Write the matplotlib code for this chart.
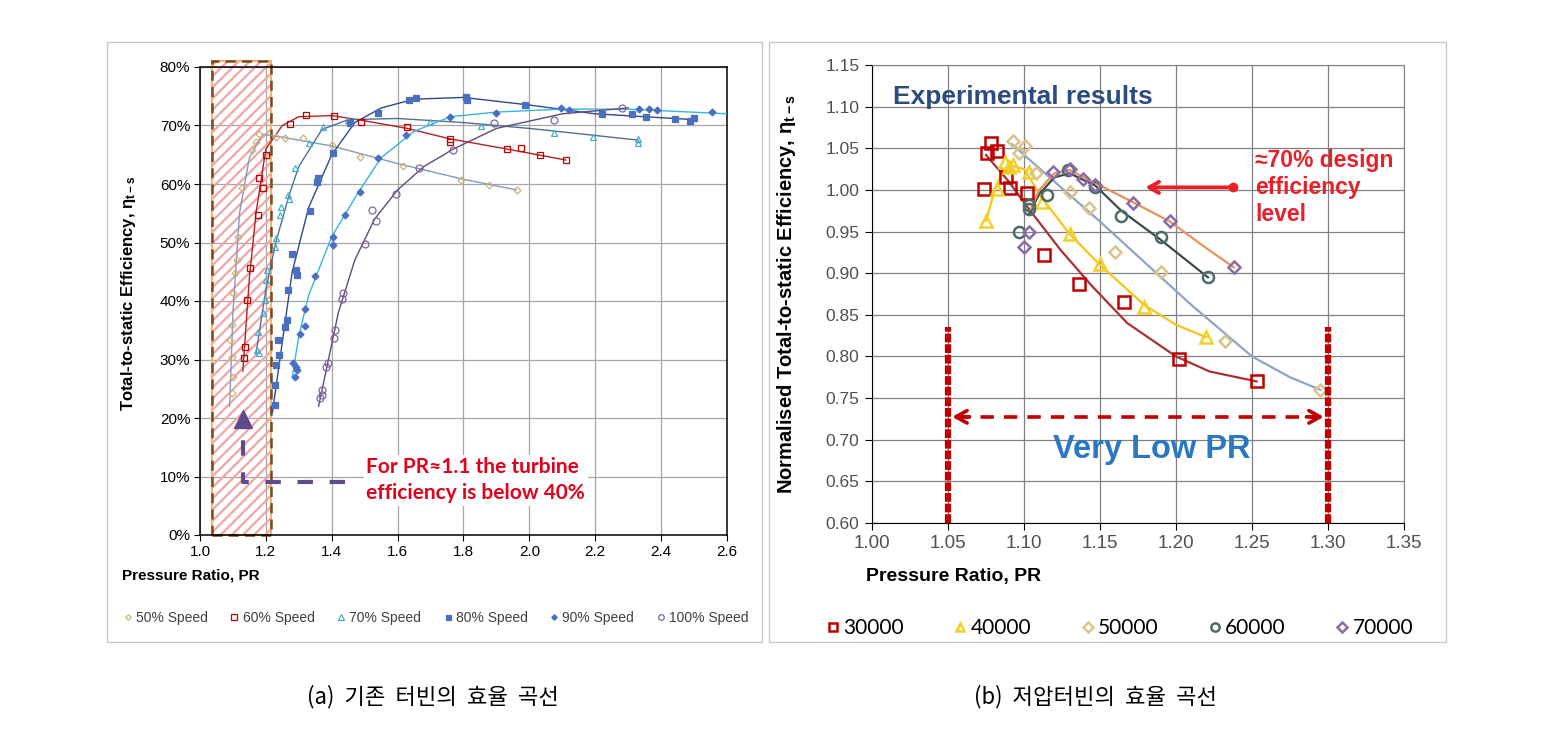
import matplotlib
matplotlib.use('Agg')
import matplotlib.pyplot as plt
import matplotlib.patches as mpatches
import numpy as np

plt.rcParams['font.family'] = ['Liberation Sans', 'DejaVu Sans']
plt.rcParams['hatch.linewidth'] = 1.6

# ---------------- (a) existing turbine: markers ----------------
speed_names = ['50% Speed', '60% Speed', '70% Speed', '80% Speed', '90% Speed', '100% Speed']

pr_50 = [1.096, 1.099, 1.096, 1.090, 1.096, 1.100, 1.106, 1.112, 1.115, 1.126, 1.157, 1.170, 1.180,
         1.230, 1.258, 1.313, 1.400, 1.485, 1.615, 1.793, 1.876, 1.962]
eff_50 = [24.3, 27.0, 30.5, 33.3, 35.9, 41.3, 44.8, 47.0, 51.0, 59.3, 65.8, 67.2, 68.5,
          68.0, 67.9, 67.8, 66.7, 64.7, 63.0, 60.7, 59.8, 59.0]
pr_60 = [1.134, 1.137, 1.142, 1.152, 1.176, 1.180, 1.190, 1.200, 1.273, 1.323, 1.406, 1.490,
         1.627, 1.758, 1.758, 1.933, 1.976, 2.033, 2.111]
eff_60 = [30.2, 32.2, 40.2, 45.6, 54.7, 61.0, 59.3, 65.0, 70.3, 71.8, 71.7, 70.6,
          69.7, 67.7, 67.2, 66.0, 66.2, 65.0, 64.1]
pr_70 = [1.172, 1.176, 1.180, 1.191, 1.197, 1.200, 1.202, 1.227, 1.232, 1.242, 1.247, 1.267,
         1.270, 1.288, 1.330, 1.373, 1.448, 1.697, 1.853, 2.076, 2.194, 2.330, 2.330]
eff_70 = [31.6, 34.7, 31.1, 37.9, 40.2, 43.6, 45.3, 49.3, 50.8, 54.7, 56.1, 58.1,
          57.5, 62.7, 67.0, 69.7, 70.9, 70.6, 69.9, 68.7, 68.0, 67.7, 67.0]
pr_80 = [1.227, 1.227, 1.232, 1.239, 1.236, 1.258, 1.263, 1.267, 1.278, 1.291, 1.293, 1.333,
         1.354, 1.358, 1.404, 1.455, 1.540, 1.636, 1.657, 1.808, 1.812, 1.988, 2.220, 2.311,
         2.354, 2.442, 2.487, 2.500]
eff_80 = [22.2, 25.6, 29.1, 30.8, 33.3, 35.6, 36.8, 41.8, 48.0, 45.3, 44.4, 55.4,
          60.4, 61.0, 65.3, 70.4, 72.1, 74.4, 74.7, 74.9, 74.4, 73.5, 72.0, 72.0,
          71.5, 71.1, 70.8, 71.3]
pr_90 = [1.288, 1.290, 1.293, 1.282, 1.303, 1.318, 1.320, 1.348, 1.403, 1.403, 1.440, 1.485,
         1.540, 1.626, 1.758, 1.900, 2.096, 2.120, 2.333, 2.364, 2.388, 2.555]
eff_90 = [27.0, 28.8, 28.2, 29.4, 34.4, 35.8, 38.6, 44.2, 51.0, 49.6, 54.7, 58.7,
          64.5, 68.4, 71.5, 72.1, 73.0, 72.6, 72.8, 72.8, 72.6, 72.3]
pr_100 = [1.364, 1.370, 1.369, 1.384, 1.388, 1.406, 1.410, 1.432, 1.435, 1.500, 1.521, 1.535,
          1.594, 1.664, 1.767, 1.894, 2.076, 2.282]
eff_100 = [23.4, 23.9, 24.8, 28.8, 29.4, 33.7, 35.0, 40.3, 41.3, 49.7, 55.6, 53.6,
           58.3, 62.7, 65.8, 70.4, 70.9, 73.0]

# (a) smoothed trend lines
fit_pr_50 = [1.09, 1.10, 1.12, 1.15, 1.19, 1.25, 1.40, 1.60, 1.80, 1.96]
fit_eff_50 = [22, 38, 55, 64.5, 68.5, 68, 66.5, 63.5, 60.8, 59]
fit_pr_60 = [1.13, 1.15, 1.17, 1.20, 1.25, 1.30, 1.40, 1.50, 1.63, 1.76, 1.93, 2.11]
fit_eff_60 = [28, 44, 55, 66, 70, 71.5, 71.7, 70.8, 69.5, 67.7, 66, 64.1]
fit_pr_70 = [1.17, 1.20, 1.23, 1.27, 1.30, 1.37, 1.45, 1.60, 1.80, 2.00, 2.20, 2.33]
fit_eff_70 = [31, 42, 50, 58, 63, 69.3, 71, 71.2, 70.5, 69.5, 68.3, 67.5]
fit_pr_80 = [1.22, 1.25, 1.28, 1.33, 1.40, 1.47, 1.55, 1.65, 1.80, 2.00, 2.20, 2.50]
fit_eff_80 = [21, 33, 45, 56, 65, 70.5, 73, 74.5, 74.8, 73.5, 72, 71]
fit_pr_90 = [1.28, 1.30, 1.33, 1.40, 1.48, 1.55, 1.65, 1.76, 1.90, 2.10, 2.30, 2.60]
fit_eff_90 = [27, 34, 41, 51, 58.5, 64.5, 69, 71.5, 72.3, 72.8, 72.8, 72]
fit_pr_100 = [1.36, 1.39, 1.42, 1.47, 1.53, 1.60, 1.68, 1.77, 1.90, 2.10, 2.30]
fit_eff_100 = [22, 30, 38, 47, 54, 59, 63, 66, 69.5, 72, 73]

# ---------------- (b) low pressure turbine ----------------
rpm_names = ['30000', '40000', '50000', '60000', '70000']

pr_30k = [1.074, 1.0755, 1.078, 1.0825, 1.088, 1.091, 1.102, 1.113, 1.136, 1.166, 1.202, 1.253]
eta_30k = [1.001, 1.044, 1.056, 1.047, 1.015, 1.002, 0.996, 0.922, 0.887, 0.865, 0.797, 0.770]
pr_40k = [1.075, 1.0825, 1.0875, 1.090, 1.093, 1.103, 1.112, 1.130, 1.150, 1.179, 1.220]
eta_40k = [0.963, 1.001, 1.034, 1.028, 1.030, 1.022, 0.986, 0.947, 0.911, 0.859, 0.823]
pr_50k = [1.0925, 1.097, 1.1007, 1.108, 1.130, 1.143, 1.160, 1.190, 1.232, 1.295]
eta_50k = [1.059, 1.044, 1.053, 1.020, 0.997, 0.978, 0.925, 0.901, 0.818, 0.760]
pr_60k = [1.097, 1.103, 1.103, 1.115, 1.129, 1.147, 1.164, 1.190, 1.221]
eta_60k = [0.950, 0.982, 0.977, 0.994, 1.024, 1.004, 0.969, 0.943, 0.895]
pr_70k = [1.100, 1.1035, 1.119, 1.130, 1.1386, 1.1467, 1.172, 1.196, 1.238]
eta_70k = [0.931, 0.950, 1.022, 1.025, 1.013, 1.006, 0.984, 0.963, 0.907]

fit_pr_30k = [1.075, 1.09, 1.102, 1.124, 1.145, 1.168, 1.20, 1.222, 1.253]
fit_eta_30k = [1.042, 1.01, 0.98, 0.928, 0.884, 0.84, 0.80, 0.782, 0.77]
fit_pr_40k = [1.075, 1.08, 1.085, 1.09, 1.10, 1.112, 1.13, 1.15, 1.179, 1.20, 1.22]
fit_eta_40k = [0.963, 0.995, 1.02, 1.03, 1.025, 0.99, 0.947, 0.91, 0.862, 0.838, 0.823]
fit_pr_50k = [1.092, 1.12, 1.15, 1.18, 1.21, 1.25, 1.275, 1.295]
fit_eta_50k = [1.055, 1.01, 0.962, 0.912, 0.862, 0.80, 0.775, 0.76]
fit_pr_60k = [1.103, 1.11, 1.12, 1.13, 1.147, 1.164, 1.19, 1.221]
fit_eta_60k = [0.97, 0.995, 1.015, 1.02, 1.005, 0.975, 0.94, 0.895]
fit_pr_70k = [1.104, 1.11, 1.12, 1.13, 1.147, 1.172, 1.196, 1.22, 1.238]
fit_eta_70k = [0.975, 1.0, 1.02, 1.024, 1.008, 0.985, 0.962, 0.93, 0.907]

W, H = 1553, 737
fig = plt.figure(figsize=(W / 100, H / 100), dpi=100)


def fx(px):
    return px / W


def fy(py):
    return 1 - py / H


# panel frames
for x0, x1 in [(107, 762), (769, 1446)]:
    fig.add_artist(mpatches.Rectangle((fx(x0), fy(642)), fx(x1) - fx(x0), fy(42) - fy(642),
                                      transform=fig.transFigure, fill=False,
                                      edgecolor='#c8c8c8', lw=1))

# ================= left chart =================
ax1 = fig.add_axes([fx(200), fy(535), fx(727) - fx(200), fy(67) - fy(535)])
ax1.set_xlim(1.0, 2.6)
ax1.set_ylim(0, 80)
ax1.set_xticks(np.arange(1.0, 2.61, 0.2))
ax1.set_xticklabels(['%.1f' % v for v in np.arange(1.0, 2.61, 0.2)])
ax1.set_yticks(range(0, 81, 10))
ax1.set_yticklabels(['%d%%' % v for v in range(0, 81, 10)])
ax1.tick_params(labelsize=11, length=4, colors='black', pad=3)
ax1.grid(True, color='#a6a6a6', lw=0.9)
ax1.set_axisbelow(True)
for s in ax1.spines.values():
    s.set_color('black')
    s.set_linewidth(1.1)

# hatched low-PR zone
ax1.add_patch(mpatches.Rectangle((1.036, 0), 0.179, 81, hatch='///', facecolor='none',
                                 edgecolor='#f2a5a5', lw=0, clip_on=False, zorder=1))
ax1.add_patch(mpatches.Rectangle((1.036, 0), 0.179, 81, fill=False, edgecolor='#f6b26b',
                                 lw=1.5, clip_on=False, zorder=1.5))
ax1.add_patch(mpatches.Rectangle((1.036, 0), 0.179, 81, fill=False, edgecolor='#7a4a22',
                                 lw=1.8, linestyle=(0, (4, 2.5)), clip_on=False, zorder=1.6))

left_series = [
    (pr_50, eff_50, fit_pr_50, fit_eff_50, 'D', '#cbb47a', 'none', 3.5, '#7f9cc0'),
    (pr_60, eff_60, fit_pr_60, fit_eff_60, 's', '#c00000', 'none', 5, '#b22222'),
    (pr_70, eff_70, fit_pr_70, fit_eff_70, '^', '#4bacc6', 'none', 5, '#4f6f94'),
    (pr_80, eff_80, fit_pr_80, fit_eff_80, 's', '#4a6fbf', '#4a6fbf', 4.5, '#2c4a85'),
    (pr_90, eff_90, fit_pr_90, fit_eff_90, 'D', '#4a6fbf', '#4a6fbf', 3.5, '#33b5e0'),
    (pr_100, eff_100, fit_pr_100, fit_eff_100, 'o', '#8064a2', 'none', 5, '#604a7b'),
]
handles1 = []
for (px, py, lx, ly, mk, mc, mf, ms, lc), name in zip(left_series, speed_names):
    ax1.plot(lx, ly, color=lc, lw=1.0, zorder=3)
    h, = ax1.plot(px, py, linestyle='none', marker=mk, markersize=ms, markeredgecolor=mc,
                  markerfacecolor=mf, markeredgewidth=0.9, zorder=4, label=name)
    handles1.append(h)

# purple dashed pointer
ax1.plot([1.44, 1.13, 1.13], [9.06, 9.06, 18.6], color='#5f4b8b', lw=3,
         dashes=(3.7, 4.0), solid_capstyle='butt', zorder=5)
ax1.plot([1.13], [19.9], marker='^', markersize=13, color='#5f4b8b', zorder=5)

ax1.text(1.505, 9.4, 'For PR\u22481.1 the turbine\nefficiency is below 40%', color='#e3001b',
         fontsize=15, fontweight='bold', family=['Lato', 'DejaVu Sans'], va='center', ha='left',
         linespacing=1.35, zorder=6,
         bbox=dict(facecolor='white', edgecolor='none', pad=2))

fig.text(fx(128), fy(293), r'Total-to-static Efficiency, $\mathregular{\eta_{t-s}}$',
         rotation=90, fontsize=12, fontweight='bold', ha='center', va='center')
fig.text(fx(122), fy(576), 'Pressure Ratio, PR', fontsize=11, fontweight='bold',
         ha='left', va='center')

fig.legend(handles=handles1, loc='center', bbox_to_anchor=(fx(436), fy(618)), ncol=6,
           frameon=False, fontsize=10, handlelength=0.6, handletextpad=0.3,
           columnspacing=1.6, markerscale=0.8, labelcolor='#404040')

# ================= right chart =================
ax2 = fig.add_axes([fx(872), fy(523), fx(1404) - fx(872), fy(65) - fy(523)])
ax2.set_xlim(1.0, 1.35)
ax2.set_ylim(0.60, 1.15)
xt = np.round(np.arange(1.0, 1.351, 0.05), 2)
yt = np.round(np.arange(0.60, 1.151, 0.05), 2)
ax2.set_xticks(xt)
ax2.set_xticklabels(['%.2f' % v for v in xt])
ax2.set_yticks(yt)
ax2.set_yticklabels(['%.2f' % v for v in yt])
ax2.tick_params(axis='x', labelsize=13.5, length=5, colors='black', labelcolor='#505050', pad=4)
ax2.tick_params(axis='y', labelsize=12.5, length=5, colors='black', labelcolor='#505050', pad=4)
ax2.grid(True, color='#808080', lw=0.9)
ax2.set_axisbelow(True)
ax2.spines['left'].set_color('black')
ax2.spines['bottom'].set_color('black')
ax2.spines['top'].set_color('#808080')
ax2.spines['right'].set_color('#808080')

right_series = [
    (pr_30k, eta_30k, fit_pr_30k, fit_eta_30k, 's', '#c00000', 8, '#a83232'),
    (pr_40k, eta_40k, fit_pr_40k, fit_eta_40k, '^', '#f2d027', 8, '#f5c518'),
    (pr_50k, eta_50k, fit_pr_50k, fit_eta_50k, 'D', '#d9c48c', 6.5, '#8ea3cc'),
    (pr_60k, eta_60k, fit_pr_60k, fit_eta_60k, 'o', '#4d6b6b', 8, '#3b4a46'),
    (pr_70k, eta_70k, fit_pr_70k, fit_eta_70k, 'D', '#8a6aa8', 6.5, '#e8925a'),
]
handles2 = []
for (px, py, lx, ly, mk, mc, ms, lc), name in zip(right_series, rpm_names):
    ax2.plot(lx, ly, color=lc, lw=1.6, zorder=3)
    h, = ax2.plot(px, py, linestyle='none', marker=mk, markersize=ms, markeredgecolor=mc,
                  markerfacecolor='none', markeredgewidth=1.8, zorder=4, label=name)
    handles2.append(h)

# low-PR bounds
for xv in [1.05, 1.30]:
    ax2.plot([xv, xv], [0.60, 0.835], color='#c00000', lw=4.5, dashes=(1.4, 0.3),
             solid_capstyle='butt', clip_on=False, zorder=5)
ax2.plot([1.056, 1.294], [0.7275, 0.7275], color='#c00000', lw=2.6, dashes=(3.7, 2.8), zorder=5)
ax2.annotate('', xy=(1.051, 0.7275), xytext=(1.066, 0.7275),
             arrowprops=dict(arrowstyle='->,head_length=0.8,head_width=0.45', color='#c00000',
                             lw=2.6), zorder=5)
ax2.annotate('', xy=(1.299, 0.7275), xytext=(1.284, 0.7275),
             arrowprops=dict(arrowstyle='->,head_length=0.8,head_width=0.45', color='#c00000',
                             lw=2.6), zorder=5)
ax2.text(1.184, 0.688, 'Very Low PR', color='#2a78c2', fontsize=23.5, fontweight='bold',
         ha='center', va='center', zorder=6)

ax2.text(1.014, 1.111, 'Experimental results', color='#2b4c7e', fontsize=19, fontweight='bold',
         ha='left', va='center', zorder=6)

# design efficiency pointer
ax2.annotate('', xy=(1.178, 1.003), xytext=(1.2375, 1.003),
             arrowprops=dict(arrowstyle='->,head_length=0.7,head_width=0.4', color='#e8202a',
                             lw=2.8), zorder=6)
ax2.plot([1.2375], [1.003], marker='o', markersize=6, color='#e8202a', zorder=6)
ax2.text(1.252, 1.003, '\u224870% design\nefficiency\nlevel', color='#e8202a', fontsize=16.5,
         fontweight='bold', ha='left', va='center', linespacing=1.2, zorder=6,
         family=['Liberation Sans', 'DejaVu Sans'])

fig.text(fx(787), fy(294), r'Normalised Total-to-static Efficiency, $\mathregular{\eta_{t-s}}$',
         rotation=90, fontsize=14.5, fontweight='bold', ha='center', va='center')
fig.text(fx(866), fy(577), 'Pressure Ratio, PR', fontsize=14, fontweight='bold',
         ha='left', va='center')

fig.legend(handles=handles2, loc='center', bbox_to_anchor=(fx(1120), fy(628)), ncol=5,
           frameon=False, prop={'family': ['Lato', 'DejaVu Sans'], 'size': 15},
           handlelength=0.6, handletextpad=0.2, columnspacing=2.4, markerscale=0.75)

# captions
cap_font = ['Noto Sans CJK KR', 'DejaVu Sans']
fig.text(fx(433), fy(697), '(a)  기존  터빈의  효율  곡선', fontsize=16, family=cap_font,
         ha='center', va='center')
fig.text(fx(1095), fy(697), '(b)  저압터빈의  효율  곡선', fontsize=16, family=cap_font,
         ha='center', va='center')

fig.savefig('out.png', dpi=100)
